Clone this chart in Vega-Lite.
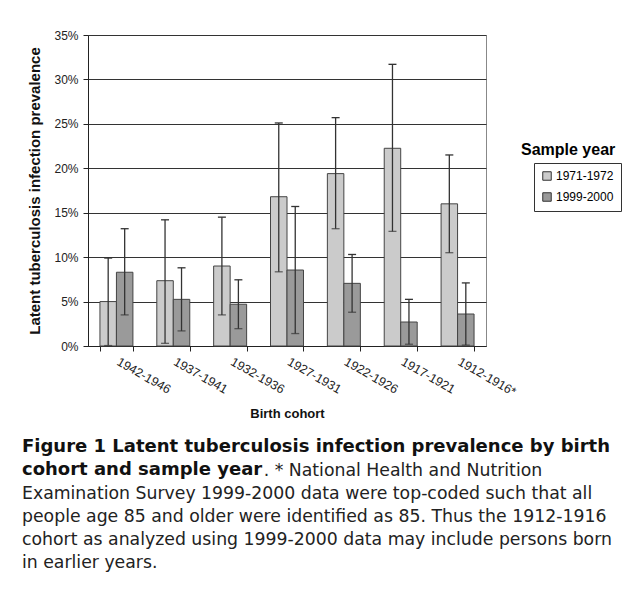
{
  "$schema": "https://vega.github.io/schema/vega-lite/v6.json",
  "width": 398,
  "height": 311,
  "padding": {"left": 21, "top": 29, "right": 0, "bottom": 0},
  "background": "#ffffff",
  "data": {
    "values": [
      {"cohort": "1942-1946", "year": "1971-1972", "value": 5.0, "lo": 0.05, "hi": 9.9},
      {"cohort": "1942-1946", "year": "1999-2000", "value": 8.3, "lo": 3.5, "hi": 13.2},
      {"cohort": "1937-1941", "year": "1971-1972", "value": 7.35, "lo": 0.3, "hi": 14.2},
      {"cohort": "1937-1941", "year": "1999-2000", "value": 5.25, "lo": 1.7, "hi": 8.8},
      {"cohort": "1932-1936", "year": "1971-1972", "value": 9.0, "lo": 3.5, "hi": 14.5},
      {"cohort": "1932-1936", "year": "1999-2000", "value": 4.7, "lo": 1.95, "hi": 7.45},
      {"cohort": "1927-1931", "year": "1971-1972", "value": 16.8, "lo": 8.35, "hi": 25.1},
      {"cohort": "1927-1931", "year": "1999-2000", "value": 8.55, "lo": 1.4, "hi": 15.7},
      {"cohort": "1922-1926", "year": "1971-1972", "value": 19.4, "lo": 13.2, "hi": 25.7},
      {"cohort": "1922-1926", "year": "1999-2000", "value": 7.05, "lo": 3.8, "hi": 10.3},
      {"cohort": "1917-1921", "year": "1971-1972", "value": 22.25, "lo": 12.9, "hi": 31.7},
      {"cohort": "1917-1921", "year": "1999-2000", "value": 2.7, "lo": 0.2, "hi": 5.25},
      {"cohort": "1912-1916*", "year": "1971-1972", "value": 16.0, "lo": 10.5, "hi": 21.5},
      {"cohort": "1912-1916*", "year": "1999-2000", "value": 3.6, "lo": 0.1, "hi": 7.1}
    ]
  },
  "encoding": {
    "x": {
      "field": "cohort",
      "type": "nominal",
      "sort": null,
      "scale": {"paddingInner": 0.42, "paddingOuter": 0.21},
      "axis": {
        "title": "Birth cohort",
        "labelAngle": 30,
        "labelAlign": "left",
        "labelBaseline": "top",
        "labelPadding": 4,
        "labelOffset": 4,
        "labelFontSize": 12.5,
        "tickBand": "extent",
        "tickSize": 5,
        "titlePadding": 9,
        "titleFontSize": 13
      }
    },
    "xOffset": {"field": "year", "type": "nominal", "scale": {"paddingInner": 0}}
  },
  "layer": [
    {
      "mark": {"type": "bar", "stroke": "#444444", "strokeWidth": 1},
      "encoding": {
        "y": {
          "field": "value",
          "type": "quantitative",
          "scale": {"domain": [0, 35], "nice": false},
          "axis": {
            "title": "Latent tuberculosis infection prevalence",
            "values": [0, 5, 10, 15, 20, 25, 30, 35],
            "labelExpr": "datum.value + '%'",
            "labelFontSize": 12,
            "labelPadding": 5,
            "tickSize": 5,
            "titleFontSize": 15,
            "titlePadding": 11
          }
        },
        "fill": {
          "field": "year",
          "type": "nominal",
          "scale": {"domain": ["1971-1972", "1999-2000"], "range": ["#cbcbcb", "#9a9a9a"]},
          "legend": {
            "title": null,
            "orient": "none",
            "legendX": 446,
            "legendY": 128,
            "padding": 7,
            "strokeColor": "#333333",
            "labelFontSize": 12,
            "labelFont": "Liberation Sans",
            "labelOffset": 3,
            "symbolType": "square",
            "symbolSize": 72,
            "symbolStrokeColor": "#333333",
            "symbolStrokeWidth": 1,
            "rowPadding": 7,
            "offset": 0
          }
        }
      }
    },
    {
      "mark": {"type": "rule", "color": "#333333", "strokeWidth": 1.3},
      "encoding": {
        "y": {"field": "lo", "type": "quantitative"},
        "y2": {"field": "hi"}
      }
    },
    {
      "mark": {"type": "tick", "color": "#333333", "thickness": 1.3, "size": 8},
      "encoding": {
        "y": {"field": "hi", "type": "quantitative"},
        "opacity": {
          "datum": "Sample year",
          "type": "nominal",
          "scale": {"range": [1, 1]},
          "legend": {
            "title": "Sample year",
            "orient": "none",
            "legendX": 433,
            "legendY": 107,
            "titleFontSize": 16,
            "titleFontWeight": "bold",
            "titleFont": "Liberation Sans",
            "symbolSize": 0,
            "symbolStrokeWidth": 0,
            "symbolFillColor": "transparent",
            "symbolStrokeColor": "transparent",
            "symbolOpacity": 0,
            "labelExpr": "''",
            "labelOpacity": 0,
            "labelFontSize": 1
          }
        }
      }
    },
    {
      "mark": {"type": "tick", "color": "#333333", "thickness": 1.3, "size": 8},
      "encoding": {"y": {"field": "lo", "type": "quantitative"}}
    }
  ],
  "title": {
    "text": ["Figure 1 Latent tuberculosis infection prevalence by birth", "cohort and sample year"],
    "subtitle": [
      "\u200b\u00a0\u00a0\u00a0\u00a0\u00a0\u00a0\u00a0\u00a0\u00a0\u00a0\u00a0\u00a0\u00a0\u00a0\u00a0\u00a0\u00a0\u00a0\u00a0\u00a0\u00a0\u00a0\u00a0\u00a0\u00a0\u00a0\u00a0\u00a0\u00a0\u00a0\u00a0\u00a0\u00a0\u00a0\u00a0\u00a0\u00a0\u00a0\u00a0\u00a0\u00a0\u00a0\u00a0\u00a0. * National Health and Nutrition",
      "Examination Survey 1999-2000 data were top-coded such that all",
      "people age 85 and older were identified as 85. Thus the 1912-1916",
      "cohort as analyzed using 1999-2000 data may include persons born",
      "in earlier years."
    ],
    "orient": "bottom",
    "anchor": "start",
    "frame": "bounds",
    "offset": 18,
    "dx": -6,
    "font": "DejaVu Sans",
    "fontSize": 18,
    "fontWeight": "bold",
    "lineHeight": 23,
    "color": "#111111",
    "subtitleFont": "DejaVu Sans",
    "subtitleFontSize": 17.3,
    "subtitleFontWeight": "normal",
    "subtitleLineHeight": 23,
    "subtitleColor": "#222222",
    "subtitlePadding": -17
  },
  "config": {
    "font": "Liberation Sans",
    "view": {"stroke": "#888888", "strokeWidth": 1},
    "axis": {
      "labelFont": "Liberation Sans",
      "labelFontSize": 11,
      "labelColor": "#222222",
      "titleFont": "Liberation Sans",
      "titleFontSize": 12,
      "titleFontWeight": "bold",
      "titleColor": "#111111",
      "domainColor": "#222222",
      "tickColor": "#222222",
      "domainWidth": 1,
      "tickWidth": 1
    },
    "axisY": {"grid": true, "gridColor": "#333333", "gridWidth": 1},
    "axisX": {"grid": false}
  }
}
